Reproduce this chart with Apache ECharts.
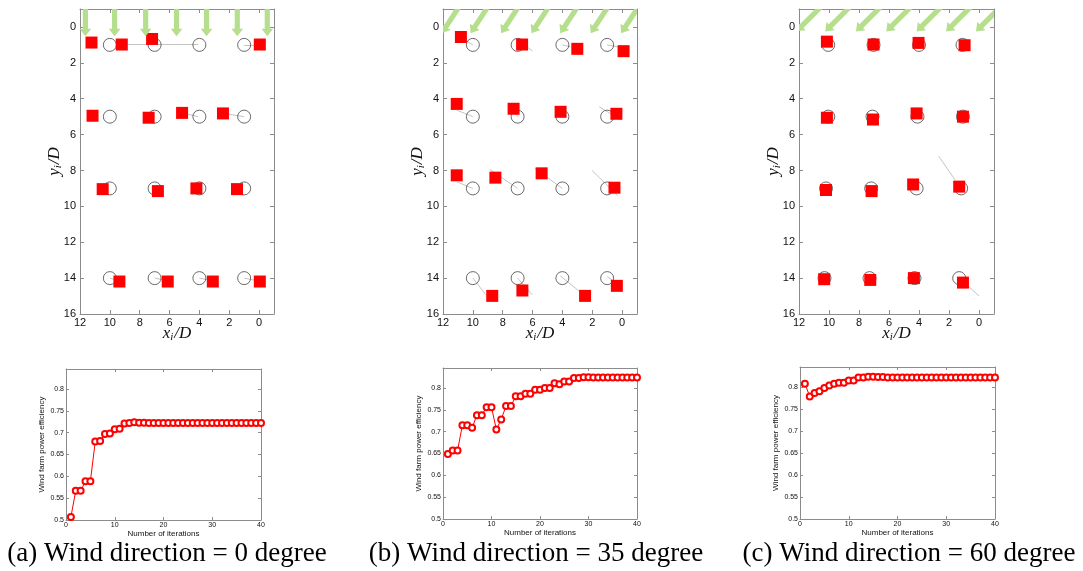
<!DOCTYPE html>
<html><head><meta charset="utf-8">
<script src="https://cdn.jsdelivr.net/npm/echarts@6/dist/echarts.min.js"></script>
<style>html,body{margin:0;padding:0;background:#fff}#c{width:1083px;height:571px}</style>
</head><body><div id="c"></div>
<script>
// ---------- DATA ----------
const captions = ['(a) Wind direction = 0 degree', '(b) Wind direction = 35 degree', '(c) Wind direction = 60 degree'];
const layoutTicksX = [0, 2, 4, 6, 8, 10, 12];
const layoutTicksY = [0, 2, 4, 6, 8, 10, 12, 14, 16];
const iterTicks = [0, 10, 20, 30, 40];
const effTicks = [0.5, 0.55, 0.6, 0.65, 0.7, 0.75, 0.8];

// initial turbine positions (open circles) [x/D, y/D]
const initialA = [[10,1],[7,1],[4,1],[1,1],[10,5],[7,5],[4,5],[1,5],[10,9],[7,9],[4,9],[1,9],[10,14],[7,14],[4,14],[1,14]];
const initialB = [[10,1],[7,1],[4,1],[1,1],[10,5],[7,5],[4,5],[1,5],[10,9],[7,9],[4,9],[1,9],[10,14],[7,14],[4,14],[1,14]];
const initialC = [[10.05,1],[7.03,1],[4.0,1],[1.1,1],[10.05,5],[7.1,5],[4.1,5],[1.07,5],[10.2,9],[7.19,9],[4.16,9],[1.19,9],[10.3,14],[7.3,14],[4.3,14],[1.32,14]];

// optimized turbine positions (red squares)
const optimizedA = [[11.23,0.87],[9.2,0.98],[7.17,0.67],[-0.05,0.98],[11.16,4.95],[7.4,5.06],[5.16,4.79],[2.42,4.82],[10.48,9.04],[6.78,9.15],[4.2,9.0],[1.48,9.04],[9.36,14.19],[6.12,14.19],[3.1,14.19],[-0.05,14.19]];
const optimizedB = [[10.8,0.56],[6.7,0.98],[3.0,1.22],[-0.1,1.35],[11.08,4.29],[7.27,4.56],[4.12,4.73],[0.38,4.84],[11.08,8.27],[8.49,8.4],[5.39,8.16],[0.51,8.96],[8.7,14.99],[6.68,14.69],[2.48,14.99],[0.35,14.43]];
const optimizedC = [[10.14,0.82],[7.03,0.98],[4.03,0.89],[0.96,1.02],[10.14,5.06],[7.07,5.16],[4.16,4.82],[1.07,5.0],[10.2,9.09],[7.16,9.15],[4.39,8.78],[1.32,8.9],[10.32,14.06],[7.25,14.1],[4.34,14.0],[1.07,14.25]];

// grey movement traces [x1, y1, x2, y2]
const tracesA = [[9.2,0.98,4.08,0.98],[1.0,1.0,0.1,1.0],[4.1,5.0,5.16,4.79],[1.0,5.0,2.42,4.82],[10,14,9.4,14.15],[7,14,6.1,14.15],[4,14,3.1,14.15],[1,14,0.1,14.15]];
const tracesB = [[10,1,10.5,0.74],[7.0,0.74,6.0,1.34],[4.0,1.0,3.46,1.11],[1.0,1.0,0.3,1.11],[11.08,4.64,10,5],[7.0,5.0,7.3,4.64],[1.53,4.45,0.06,5.19],[11.08,8.63,10,9],[8.86,7.94,7,9],[5.86,7.88,4,9],[2.01,8.0,0.29,9.41],[10,14,9.13,14.93],[7.0,14.0,6.02,14.93],[4.14,13.88,2.48,14.99],[1.0,13.91,0.35,14.29]];
const tracesC = [[2.69,7.2,1.59,8.53],[0.81,14.38,0.0,14.99]];

// wind arrows [tailX, tailY, headX, headY]
const windA = [[11.64,-1.3,11.64,0.52],[9.68,-1.3,9.68,0.52],[7.6,-1.3,7.6,0.52],[5.53,-1.3,5.53,0.52],[3.52,-1.3,3.52,0.52],[1.46,-1.3,1.46,0.52],[-0.55,-1.3,-0.55,0.52]];
const windB = [[10.94,-1.1,12.08,0.35],[9.01,-1.1,10.15,0.35],[6.96,-1.1,8.1,0.35],[4.93,-1.1,6.07,0.35],[3.0,-1.1,4.14,0.35],[0.96,-1.1,2.1,0.35],[-1.08,-1.1,0.06,0.35]];
const windC = [[10.56,-1.1,12.18,0.25],[8.63,-1.1,10.25,0.25],[6.58,-1.1,8.2,0.25],[4.56,-1.1,6.18,0.25],[2.54,-1.1,4.16,0.25],[0.57,-1.1,2.19,0.25],[-1.42,-1.1,0.2,0.25]];

// wind farm power efficiency per iteration (1..40)
const efficiencyA = [0.507,0.567,0.567,0.589,0.589,0.680,0.681,0.697,0.698,0.708,0.709,0.721,0.722,0.724,0.723,0.723,0.722,0.722,0.722,0.722,0.722,0.722,0.722,0.722,0.722,0.722,0.722,0.722,0.722,0.722,0.722,0.722,0.722,0.722,0.722,0.722,0.722,0.722,0.722,0.722];
const efficiencyB = [0.649,0.657,0.657,0.715,0.715,0.709,0.738,0.738,0.756,0.756,0.705,0.728,0.759,0.759,0.781,0.781,0.787,0.787,0.796,0.796,0.800,0.800,0.811,0.809,0.815,0.815,0.823,0.823,0.825,0.825,0.824,0.824,0.824,0.824,0.824,0.824,0.824,0.824,0.824,0.824];
const efficiencyC = [0.808,0.779,0.787,0.791,0.798,0.804,0.808,0.810,0.810,0.815,0.815,0.822,0.822,0.824,0.824,0.823,0.823,0.822,0.822,0.822,0.822,0.822,0.822,0.822,0.822,0.822,0.822,0.822,0.822,0.822,0.822,0.822,0.822,0.822,0.822,0.822,0.822,0.822,0.822,0.822];

// ---------- CHART ----------
const panels = [
  {init: initialA, opt: optimizedA, tr: tracesA, wind: windA, eff: efficiencyA},
  {init: initialB, opt: optimizedB, tr: tracesB, wind: windB, eff: efficiencyB},
  {init: initialC, opt: optimizedC, tr: tracesC, wind: windC, eff: efficiencyC}
];
const topGrids = [
  {left: 80, top: 9, width: 194, height: 305},
  {left: 443, top: 9, width: 194, height: 305},
  {left: 799, top: 9, width: 195, height: 305}
];
const botGrids = [
  {left: 66, top: 369, width: 195, height: 151},
  {left: 443, top: 368, width: 194, height: 151},
  {left: 800, top: 367, width: 195, height: 152}
];
const captionX = [167, 536, 909];

const AX = '#8c8c8c', TXT = '#111', SANS = '"Liberation Sans", Arial, sans-serif';
const nameRich = {
  it: {fontFamily: '"Liberation Serif", serif', fontStyle: 'italic', fontSize: 17, color: TXT, lineHeight: 18},
  sub: {fontFamily: '"Liberation Serif", serif', fontStyle: 'italic', fontSize: 11, color: TXT, lineHeight: 18, verticalAlign: 'bottom', padding: [0, 1, 0, 0]}
};

const grid = [], xAxis = [], yAxis = [], series = [];
function boxAxes(gi, xa, ya) {
  const xi = xAxis.length, yi = yAxis.length;
  xAxis.push(Object.assign({gridIndex: gi, position: 'bottom'}, xa.main));
  xAxis.push(Object.assign({gridIndex: gi, position: 'top', axisLabel: {show: false}, name: ''}, xa.box));
  yAxis.push(Object.assign({gridIndex: gi, position: 'left'}, ya.main));
  yAxis.push(Object.assign({gridIndex: gi, position: 'right', axisLabel: {show: false}, name: ''}, ya.box));
  return [xi, yi];
}

function arrowRender(params, api) {
  const p1 = api.coord([api.value(0), api.value(1)]);
  const p2 = api.coord([api.value(2), api.value(3)]);
  const dx = p2[0] - p1[0], dy = p2[1] - p1[1], L = Math.hypot(dx, dy);
  const ux = dx / L, uy = dy / L, nx = -uy, ny = ux;
  const hw = 2.6, hh = 5.8, hl = 7.5;
  const bx = p2[0] - ux * hl, by = p2[1] - uy * hl;
  const pts = [
    [p1[0] + nx * hw, p1[1] + ny * hw], [bx + nx * hw, by + ny * hw], [bx + nx * hh, by + ny * hh],
    [p2[0], p2[1]], [bx - nx * hh, by - ny * hh], [bx - nx * hw, by - ny * hw], [p1[0] - nx * hw, p1[1] - ny * hw]
  ];
  return {type: 'polygon', shape: {points: pts}, style: {fill: '#b5df8c'}};
}

panels.forEach((p, i) => {
  // ---- layout plot ----
  grid.push(topGrids[i]);
  const lineS = {show: true, onZero: false, lineStyle: {color: AX, width: 1}};
  const tickX = {show: true, inside: true, length: 4, lineStyle: {color: AX}, customValues: layoutTicksX};
  const tickY = {show: true, inside: true, length: 4, lineStyle: {color: AX}, customValues: layoutTicksY};
  const common = {type: 'value', inverse: true, splitLine: {show: false}, axisLine: lineS};
  const [xi, yi] = boxAxes(grid.length - 1,
    {main: Object.assign({}, common, {min: -1, max: 12, axisTick: tickX,
        axisLabel: {customValues: layoutTicksX, fontSize: 11, color: TXT, fontFamily: SANS, margin: 3},
        name: '{it|x}{sub|i}{it|/D}', nameLocation: 'middle', nameGap: 11, nameMoveOverlap: false,
        nameTextStyle: {rich: nameRich}}),
     box: Object.assign({}, common, {min: -1, max: 12, axisTick: tickX})},
    {main: Object.assign({}, common, {min: -1, max: 16, axisTick: tickY,
        axisLabel: {customValues: layoutTicksY, fontSize: 11, color: TXT, fontFamily: SANS, margin: 4},
        name: '{it|y}{sub|i}{it|/D}', nameLocation: 'middle', nameGap: 16, nameRotate: 90, nameMoveOverlap: false,
        nameTextStyle: {rich: nameRich}}),
     box: Object.assign({}, common, {min: -1, max: 16, axisTick: tickY})});
  series.push({type: 'lines', coordinateSystem: 'cartesian2d', xAxisIndex: xi, yAxisIndex: yi, silent: true, z: 1,
    lineStyle: {color: '#c4c4c4', width: 1, opacity: 1},
    data: p.tr.map(t => ({coords: [[t[0], t[1]], [t[2], t[3]]]}))});
  series.push({type: 'scatter', xAxisIndex: xi, yAxisIndex: yi, z: 2, symbol: 'circle', symbolSize: 13, silent: true,
    itemStyle: {color: 'rgba(0,0,0,0)', borderColor: '#444', borderWidth: 0.8, opacity: 1}, data: p.init});
  series.push({type: 'scatter', xAxisIndex: xi, yAxisIndex: yi, z: 3, symbol: 'rect', symbolSize: 12, silent: true,
    itemStyle: {color: '#ff0000', opacity: 1}, data: p.opt});
  series.push({type: 'custom', xAxisIndex: xi, yAxisIndex: yi, z: 4, clip: true, silent: true,
    renderItem: arrowRender, data: p.wind});

  // ---- efficiency plot ----
  grid.push(botGrids[i]);
  const tX = {show: true, inside: true, length: 3, lineStyle: {color: AX}, customValues: iterTicks};
  const tY = {show: true, inside: true, length: 3, lineStyle: {color: AX}, customValues: effTicks};
  const c2 = {type: 'value', splitLine: {show: false}, axisLine: lineS};
  const [xj, yj] = boxAxes(grid.length - 1,
    {main: Object.assign({}, c2, {min: 0, max: 40, axisTick: tX,
        axisLabel: {customValues: iterTicks, fontSize: 7, color: TXT, fontFamily: SANS, margin: 2},
        name: 'Number of iterations', nameLocation: 'middle', nameGap: 10,
        nameTextStyle: {fontSize: 8, color: TXT, fontFamily: SANS}}),
     box: Object.assign({}, c2, {min: 0, max: 40, axisTick: tX})},
    {main: Object.assign({}, c2, {min: 0.5, max: 0.846, axisTick: tY,
        axisLabel: {customValues: effTicks, fontSize: 7, color: TXT, fontFamily: SANS, margin: 2,
          formatter: v => String(+(+v).toFixed(2))},
        name: 'Wind farm power efficiency', nameLocation: 'middle', nameGap: 20, nameRotate: 90,
        nameTextStyle: {fontSize: 8, color: TXT, fontFamily: SANS}}),
     box: Object.assign({}, c2, {min: 0.5, max: 0.846, axisTick: tY})});
  series.push({type: 'line', xAxisIndex: xj, yAxisIndex: yj, silent: true, symbol: 'emptyCircle', symbolSize: 6,
    showAllSymbol: true, itemStyle: {color: '#ff0000', borderWidth: 1}, lineStyle: {color: '#ff0000', width: 1},
    data: p.eff.map((v, k) => [k + 1, v])});
});

const chart = echarts.init(document.getElementById('c'));
chart.setOption({
  animation: false,
  backgroundColor: '#fff',
  grid, xAxis, yAxis, series,
  graphic: captions.map((t, i) => ({type: 'text', x: captionX[i], y: 554,
    style: {text: t, font: '27px "Liberation Serif", "Times New Roman", serif', fill: '#000', align: 'center', verticalAlign: 'middle'}}))
});
</script></body></html>
